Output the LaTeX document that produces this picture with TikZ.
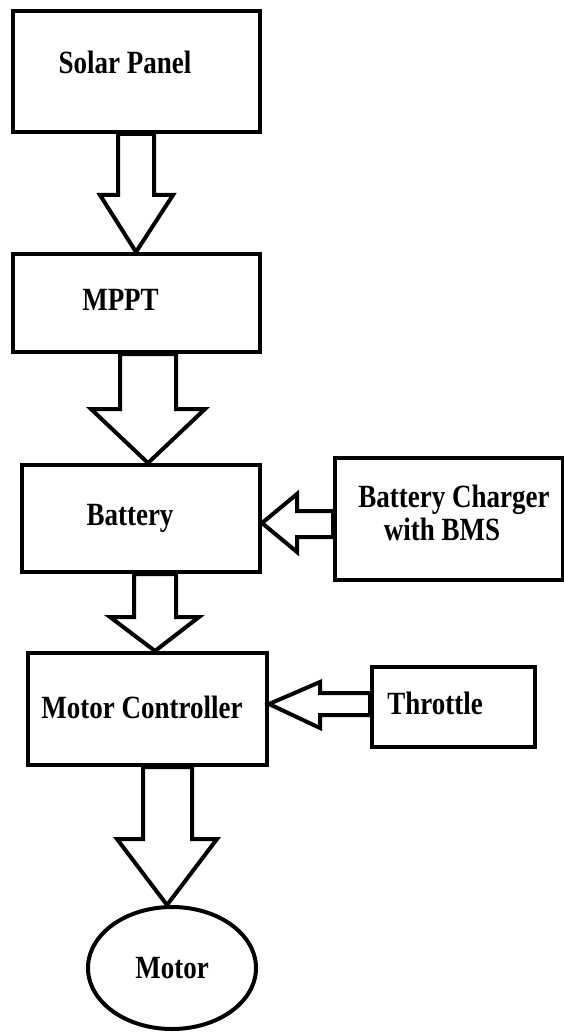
\documentclass[tikz,border=0pt]{standalone}
\usepackage{fontspec}
\setmainfont{Liberation Serif}
\usetikzlibrary{calc}
\newcommand\lbl[1]{\scalebox{1}[1.2]{#1}}
\tikzset{
  x=1pt, y=-1pt,
  every node/.style={font=\fontsize{27}{27.5}\selectfont\bfseries},
  box/.style={draw, line width=4pt, rectangle, inner sep=0pt},
  oval/.style={draw, line width=4pt, ellipse, inner sep=0pt},
  blk/.style={draw, line width=4pt, line join=miter, fill=white},
}
\usetikzlibrary{shapes.geometric}
\begin{document}
\begin{tikzpicture}
\useasboundingbox (0,0) rectangle (563,1032);
% boxes
\node[box, minimum width=247pt, minimum height=121pt,
  label={[xshift=-11.5pt,yshift=9.5pt]center:\lbl{Solar Panel}}] (sp) at (136.5,71.5) {};
\node[box, minimum width=247pt, minimum height=98pt,
  label={[xshift=-16pt,yshift=3pt]center:\lbl{MPPT}}] (mppt) at (136.5,303) {};
\node[box, minimum width=238pt, minimum height=107pt,
  label={[xshift=-11pt,yshift=0pt]center:\lbl{Battery}}] (bat) at (141,518.5) {};
\node[box, minimum width=228pt, minimum height=122pt,
  label={[xshift=5pt,yshift=2pt]center:\lbl{\begin{tabular}{@{}c@{}}Battery Charger\\with BMS\hspace*{24pt}\end{tabular}}}] (chg) at (449,519) {};
\node[box, minimum width=239pt, minimum height=112pt,
  label={[xshift=-5.5pt,yshift=2pt]center:\lbl{Motor Controller}}] (mc) at (147.5,709) {};
\node[box, minimum width=163pt, minimum height=80pt,
  label={[xshift=-18.5pt,yshift=4pt]center:\lbl{Throttle}}] (thr) at (453.5,707) {};
\node[oval, minimum width=168pt, minimum height=122pt] (mot) at (172,968) {\lbl{Motor}};
% block arrows
\draw[blk] (118,0 |- sp.south) -- (118,195) -- (100,195) -- (136,0 |- mppt.north)
  -- (173,195) -- (154,195) -- (154,0 |- sp.south) -- cycle;
\draw[blk] (120,0 |- mppt.south) -- (120,409) -- (91,409) -- (148,0 |- bat.north)
  -- (205,409) -- (176,409) -- (176,0 |- mppt.south) -- cycle;
\draw[blk] (134,0 |- bat.south) -- (134,617) -- (110,617) -- (155,0 |- mc.north)
  -- (199,617) -- (176,617) -- (176,0 |- bat.south) -- cycle;
\draw[blk] (143,0 |- mc.south) -- (143,839) -- (117,839) -- (167,0 |- mot.north)
  -- (217,839) -- (192,839) -- (192,0 |- mc.south) -- cycle;
\draw[blk] (chg.west |- 0,511) -- (297,511) -- (297,494) -- (bat.east |- 0,523)
  -- (297,552) -- (297,537) -- (chg.west |- 0,537) -- cycle;
\draw[blk] (thr.west |- 0,693) -- (320,693) -- (320,682) -- (mc.east |- 0,704)
  -- (320,728) -- (320,715) -- (thr.west |- 0,715) -- cycle;
\end{tikzpicture}
\end{document}
